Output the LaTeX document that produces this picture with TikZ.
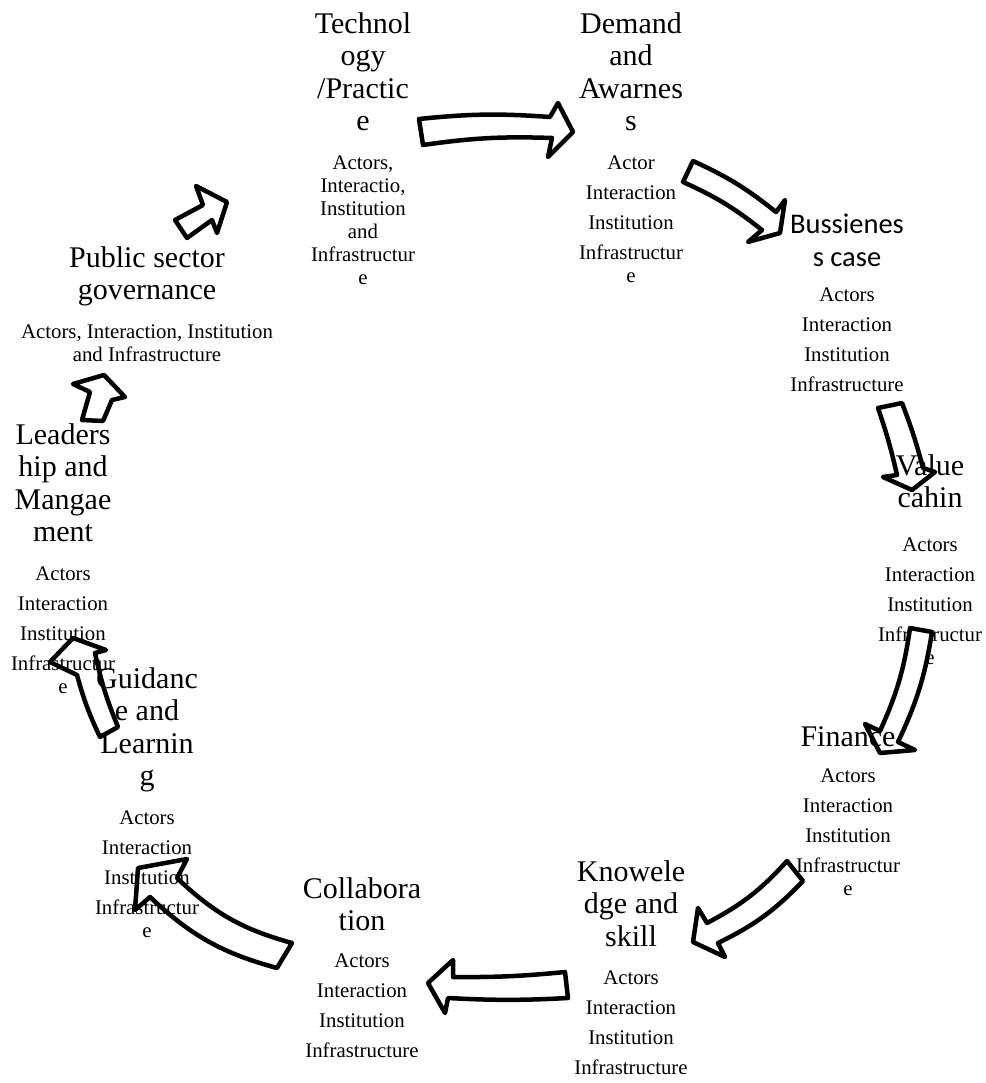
\documentclass[tikz,border=0pt]{standalone}
\usepackage{fontspec}
\setmainfont{Liberation Serif}
\newfontfamily\calibrifont{Carlito}

\tikzset{
  heading/.style={align=center, inner sep=0pt, anchor=north, font=\fontsize{30}{32.5}\selectfont},
  sansheading/.style={heading, font=\calibrifont\fontsize{28.5}{33}\selectfont},
  details/.style={align=center, inner sep=0pt, anchor=north, font=\fontsize{20.8}{23}\selectfont},
  blockarrow/.style={draw, line width=4.5pt, line join=round},
}

\begin{document}
\begin{tikzpicture}[x=1pt, y=-1pt]
    \useasboundingbox (0,0) rectangle (985,1083);

    % Technology / practice
    \node[heading] (tech) at (363,12) {Technol\\ogy\\/Practic\\e};
    \node[details] (techbody) at (363,156) {Actors,\\Interactio,\\Institution\\and\\Infrastructur\\e};

    % Demand and awareness
    \node[heading] (demand) at (631,12) {Demand\\and\\Awarnes\\s};
    \node[details] (demandbody) at (631,156) {Actor\\[7pt]Interaction\\[7pt]Institution\\[7pt]Infrastructur\\e};

    % Business case
    \node[sansheading] (business) at (847,214) {Bussienes\\s case};
    \node[details] (businessbody) at (847,288) {Actors\\[7pt]Interaction\\[7pt]Institution\\[7pt]Infrastructure};

    % Value chain
    \node[heading] (value) at (930,454) {Value\\cahin};
    \node[details] (valuebody) at (930,538) {Actors\\[7pt]Interaction\\[7pt]Institution\\[7pt]Infrastructur\\e};

    % Finance (title goes on top of the arrow, see below)
    \node[details] (financebody) at (848,769) {Actors\\[7pt]Interaction\\[7pt]Institution\\[7pt]Infrastructur\\e};

    % Knowledge and skill
    \node[heading] (knowledge) at (631,860) {Knowele\\dge and\\skill};
    \node[details] (knowledgebody) at (631,971) {Actors\\[7pt]Interaction\\[7pt]Institution\\[7pt]Infrastructure};

    % Collaboration
    \node[heading] (collab) at (362,877) {Collabora\\tion};
    \node[details] (collabbody) at (362,954) {Actors\\[7pt]Interaction\\[7pt]Institution\\[7pt]Infrastructure};

    % Guidance and learning
    \node[heading] (guidance) at (147,667) {Guidanc\\e and\\Learnin\\g};
    \node[details] (guidancebody) at (147,811) {Actors\\[7pt]Interaction\\[7pt]Institution\\[7pt]Infrastructur\\e};

    % Leadership and management
    \node[heading] (leader) at (63,423) {Leaders\\hip and\\Mangae\\ment};
    \node[details] (leaderbody) at (63,567) {Actors\\[7pt]Interaction\\[7pt]Institution\\[7pt]Infrastructur\\e};

    % Public sector governance
    \node[heading] (public) at (147,246) {Public sector\\governance};
    \node[details] (publicbody) at (147,325) {Actors, Interaction, Institution\\and Infrastructure};

    % Block arrows round the cycle
    \draw[blockarrow] (419,119) to[bend left=5] (550,117) -- (558,103) -- (573,132) -- (548,157) -- (552,138) to[bend right=5] (423,145) -- cycle;
    \draw[blockarrow] (693,161) to[bend left=7] (776,212) -- (785,200) -- (780,233) -- (748,242) -- (762,230) to[bend right=7] (683,182) -- cycle;
    \draw[blockarrow] (902,403) to[bend left=3] (923,468) -- (935,472) -- (912,490) -- (883,477) -- (897,475) to[bend right=3] (878,408) -- cycle;
    \draw[blockarrow, fill=white] (932,632) to[bend left=8] (898,742) -- (915,750) -- (880,753) -- (865,724) -- (880,731) to[bend right=8] (910,628) -- cycle;
    \draw[blockarrow] (803,881) to[bend left=10] (718,943) -- (725,957) -- (693,942) -- (698,908) -- (707,923) to[bend right=10] (787,861) -- cycle;
    \draw[blockarrow] (568,998) to[bend left=3] (448,998) -- (445,1013) -- (428,983) -- (453,960) -- (453,977) to[bend right=3] (565,972) -- cycle;
    \draw[blockarrow] (277,968) to[bend left=14] (150,897) -- (135,910) -- (138,868) -- (187,859) -- (177,878) to[bend right=14] (292,943) -- cycle;
    \draw[blockarrow] (100,737) to[bend left=5] (77,675) -- (50,662) -- (73,638) -- (106,650) -- (95,653) to[bend right=5] (118,727) -- cycle;
    \draw[blockarrow] (82,420) -- (90,392) -- (73,384) -- (104,375) -- (125,397) -- (112,400) -- (103,421) -- cycle;
    \draw[blockarrow] (175,220) -- (203,205) -- (196,186) -- (227,202) -- (217,233) -- (212,220) -- (187,238) -- cycle;

    % Finance title
    \node[heading] (finance) at (848,726) {Finance};
\end{tikzpicture}
\end{document}
